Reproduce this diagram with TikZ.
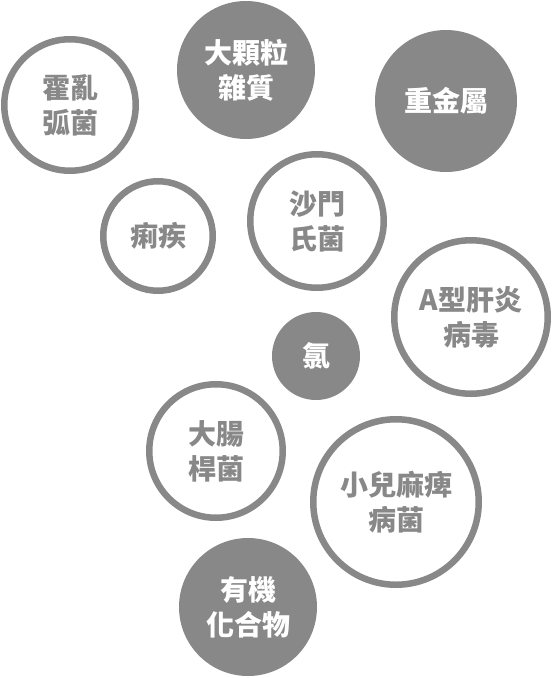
\documentclass[tikz,border=0pt]{standalone}
\usepackage{fontspec}
\newfontfamily\cjk{Noto Sans CJK TC}
\usepackage{xcolor}
\definecolor{bubblegray}{HTML}{888888}

\begin{document}
\begin{tikzpicture}[x=1pt,y=-1pt,
  bubble/.style={circle, inner sep=0pt, align=center, font=\cjk\bfseries\fontsize{28}{35}\selectfont},
  ring/.style={bubble, draw=bubblegray, line width=6.5pt, fill=white, text=bubblegray},
  disc/.style={bubble, fill=bubblegray, text=white}]
\useasboundingbox (0,0) rectangle (553,678);

% outlined bubbles
\node[ring, minimum size=131.5pt] (cholera) at (70,105) {霍亂\\弧菌};
\node[ring, minimum size=109.5pt] (dysentery) at (158,236) {痢疾};
\node[ring, minimum size=133.5pt] (salmonella) at (317,221) {沙門\\氏菌};
\node[ring, minimum size=153.5pt] (hepatitis) at (471,317) {A型肝炎\\病毒};
\node[ring, minimum size=133.5pt] (ecoli) at (216,451) {大腸\\桿菌};
\node[ring, minimum size=165.5pt] (polio) at (396,502) {小兒麻痺\\病菌};

% filled bubbles
\node[disc, minimum size=138pt] (particle) at (246,70) {大顆粒\\雜質};
\node[disc, minimum size=142pt] (metal) at (446,101) {重金屬};
\node[disc, minimum size=88pt] (chlorine) at (316,356) {氯};
\node[disc, minimum size=138pt] (organic) at (248,607) {有機\\化合物};
\end{tikzpicture}
\end{document}
